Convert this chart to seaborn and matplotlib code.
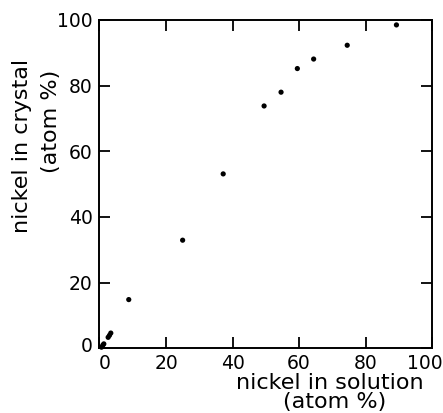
import matplotlib
matplotlib.use("Agg")
import matplotlib.pyplot as plt
import matplotlib.transforms as mtransforms
import seaborn as sns
import pandas as pd

# nickel in solution vs nickel in crystal (atom %)
solution = [0.6, 1.0, 1.3, 2.6, 3.0, 3.4, 8.8, 25.0, 37.2, 49.5, 54.6, 59.5, 64.4, 74.5, 89.3]
crystal = [0.3, 0.9, 1.3, 3.3, 3.9, 4.6, 14.8, 32.9, 53.1, 73.8, 78.0, 85.2, 88.1, 92.3, 98.5]
ticks = [0, 20, 40, 60, 80, 100]

df = pd.DataFrame({"solution": solution, "crystal": crystal})

sns.set_theme(style="ticks")
plt.rcParams["font.family"] = ["DejaVu Sans"]
plt.rcParams["text.color"] = "black"

fig = plt.figure(figsize=(4.43, 4.13), dpi=100)
ax = fig.add_axes([0.2246, 0.157, 0.7506, 0.7946])

sns.scatterplot(data=df, x="solution", y="crystal", ax=ax, color="black",
                s=14, edgecolor="none", clip_on=False)

ax.set_xlim(0, 100)
ax.set_ylim(0, 100)
ax.set_xticks(ticks)
ax.set_yticks(ticks)
ax.tick_params(direction="in", length=8, width=1.3, top=True, right=True,
               labelsize=13.5, colors="black")
ax.tick_params(axis="x", pad=4)
ax.tick_params(axis="y", pad=5)
for sp in ax.spines.values():
    sp.set_linewidth(1.4)
    sp.set_color("black")

# nudge the end labels like in the original figure
fig.canvas.draw()
xl = ax.get_xticklabels()
xl[0].set_transform(xl[0].get_transform() + mtransforms.ScaledTranslation(5 / 100, 0, fig.dpi_scale_trans))
xl[-1].set_transform(xl[-1].get_transform() + mtransforms.ScaledTranslation(-7 / 100, 0, fig.dpi_scale_trans))
yl = ax.get_yticklabels()
yl[0].set_transform(yl[0].get_transform() + mtransforms.ScaledTranslation(0, 4 / 100, fig.dpi_scale_trans))

ax.set_xlabel("")
ax.set_ylabel("")
ax.text(0.693, -0.107, "nickel in solution", transform=ax.transAxes,
        ha="center", va="center", fontsize=16)
ax.text(0.708, -0.165, "(atom %)", transform=ax.transAxes,
        ha="center", va="center", fontsize=16)
ax.text(-0.233, 0.616, "nickel in crystal", transform=ax.transAxes,
        ha="center", va="center", rotation=90, fontsize=16)
ax.text(-0.146, 0.692, "(atom %)", transform=ax.transAxes,
        ha="center", va="center", rotation=90, fontsize=16)

fig.savefig("out.png", dpi=100)
